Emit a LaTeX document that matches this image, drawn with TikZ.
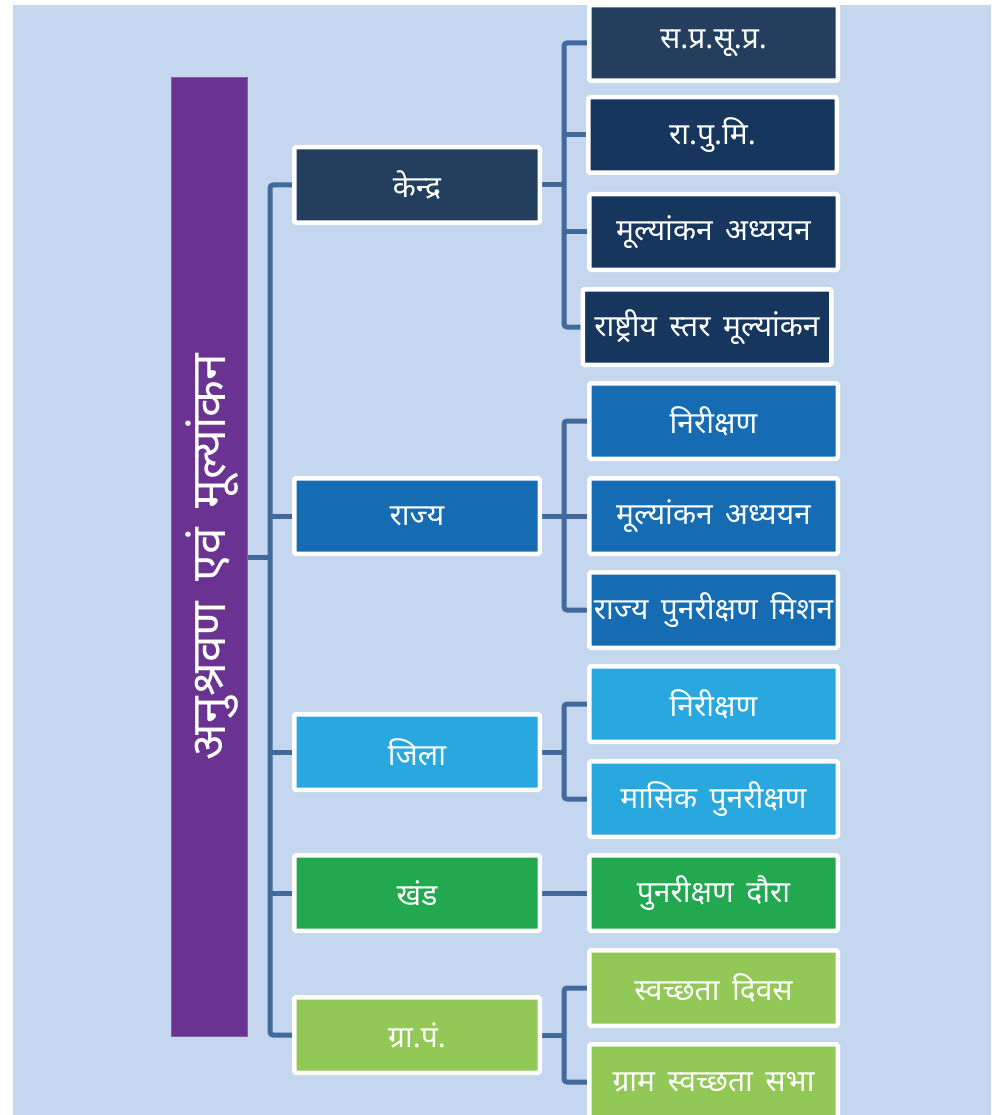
\documentclass[tikz,border=0pt]{standalone}
\usepackage{fontspec}
\usepackage{graphicx}
\setmainfont[Script=Devanagari,WordSpace=1.6]{Noto Sans}
\usetikzlibrary{calc}
\pgfdeclarelayer{bg}
\pgfsetlayers{bg,main}
\definecolor{bgblue}{HTML}{C5D7EE}
\definecolor{rootfill}{HTML}{6A3391}
\definecolor{rootline}{HTML}{7F62A4}
\definecolor{cA}{HTML}{243F5E}
\definecolor{cB}{HTML}{17365D}
\definecolor{cC}{HTML}{156CB3}
\definecolor{cD}{HTML}{29A8E0}
\definecolor{cE}{HTML}{22A84F}
\definecolor{cF}{HTML}{92C856}
\definecolor{connc}{HTML}{41699B}
\begin{document}
\begin{tikzpicture}[x=1pt,y=-1pt,
  box/.style={draw=white, line width=4.5pt, rounded corners=1.5pt,
    minimum width=248.5pt, minimum height=75.5pt, inner sep=0pt,
    text=white, font=\fontsize{30}{36}\selectfont},
  lvone/.style={box, minimum width=245.5pt},
  conn/.style={draw=connc, line width=5pt, rounded corners=3pt}]
\useasboundingbox (0,0) rectangle (1002,1115);
% root
\node[draw=rootline, fill=rootfill, line width=1.5pt, minimum width=76pt,
  minimum height=959pt, inner sep=0pt, text=white,
  font=\fontsize{48}{56}\selectfont] (root) at (209.5,557)
  {\hspace*{6pt}\rotatebox{90}{अनुश्रवण एवं मूल्यांकन}};
% level one
\node[lvone, fill=cA] (k)  at (417,185)  {\makebox[0pt]{केन्द्र}};
\node[lvone, fill=cC] (r)  at (417,516)  {\makebox[0pt]{राज्य}};
\node[lvone, fill=cD] (j)  at (417,752)  {\makebox[0pt]{जिला}};
\node[lvone, fill=cE] (kh) at (417,893)  {\makebox[0pt]{खंड}};
\node[lvone, fill=cF] (g)  at (417,1035) {\makebox[0pt]{ग्रा.पं.}};
% level two
\node[box, fill=cA] (a1) at (713.5,43)  {\makebox[0pt]{स.प्र.सू.प्र.}};
\node[box, fill=cB] (a2) at (712.5,135) {\makebox[0pt]{रा.पु.मि.}};
\node[box, fill=cB] (a3) at (713.5,232) {\makebox[0pt]{मूल्यांकन अध्ययन}};
\node[box, fill=cB] (a4) at (707,327)   {\makebox[0pt]{राष्ट्रीय स्तर मूल्यांकन}};
\node[box, fill=cC] (b1) at (713.5,421) {\makebox[0pt]{निरीक्षण}};
\node[box, fill=cC] (b2) at (713.5,516) {\makebox[0pt]{मूल्यांकन अध्ययन}};
\node[box, fill=cC] (b3) at (713.5,610) {\makebox[0pt]{राज्य पुनरीक्षण मिशन}};
\node[box, fill=cD] (d1) at (713.5,704) {\makebox[0pt]{निरीक्षण}};
\node[box, fill=cD] (d2) at (713.5,799) {\makebox[0pt]{मासिक पुनरीक्षण}};
\node[box, fill=cE] (e1) at (713.5,893) {\makebox[0pt]{पुनरीक्षण दौरा}};
\node[box, fill=cF] (f1) at (713.5,988) {\makebox[0pt]{स्वच्छता दिवस}};
\node[box, fill=cF] (f2) at (713.5,1082){\makebox[0pt]{ग्राम स्वच्छता सभा}};
\coordinate (T) at (270,0);
\coordinate (S) at (564,0);
\begin{pgfonlayer}{bg}
  \fill[bgblue] (13,5) rectangle (991,1115);
  % trunk
  \draw[conn] (root.east) -- (root.east -| T);
  \draw[conn] (k.west) -- (k.west -| T) -- (g.west -| T) -- (g.west);
  \draw[conn] (r.west -| T) -- (r.west);
  \draw[conn] (j.west -| T) -- (j.west);
  \draw[conn] (kh.west -| T) -- (kh.west);
  % kendra
  \draw[conn] (k.east) -- (k.east -| S);
  \draw[conn] (a1.west) -- (a1.west -| S) -- (a4.west -| S) -- (a4.west);
  \draw[conn] (a2.west -| S) -- (a2.west);
  \draw[conn] (a3.west -| S) -- (a3.west);
  % rajya
  \draw[conn] (r.east) -- (r.east -| S);
  \draw[conn] (b1.west) -- (b1.west -| S) -- (b3.west -| S) -- (b3.west);
  \draw[conn] (b2.west -| S) -- (b2.west);
  % jila
  \draw[conn] (j.east) -- (j.east -| S);
  \draw[conn] (d1.west) -- (d1.west -| S) -- (d2.west -| S) -- (d2.west);
  % khand
  \draw[conn] (kh.east) -- (e1.west);
  % gram panchayat
  \draw[conn] (g.east) -- (g.east -| S);
  \draw[conn] (f1.west) -- (f1.west -| S) -- (f2.west -| S) -- (f2.west);
\end{pgfonlayer}
\end{tikzpicture}
\end{document}
